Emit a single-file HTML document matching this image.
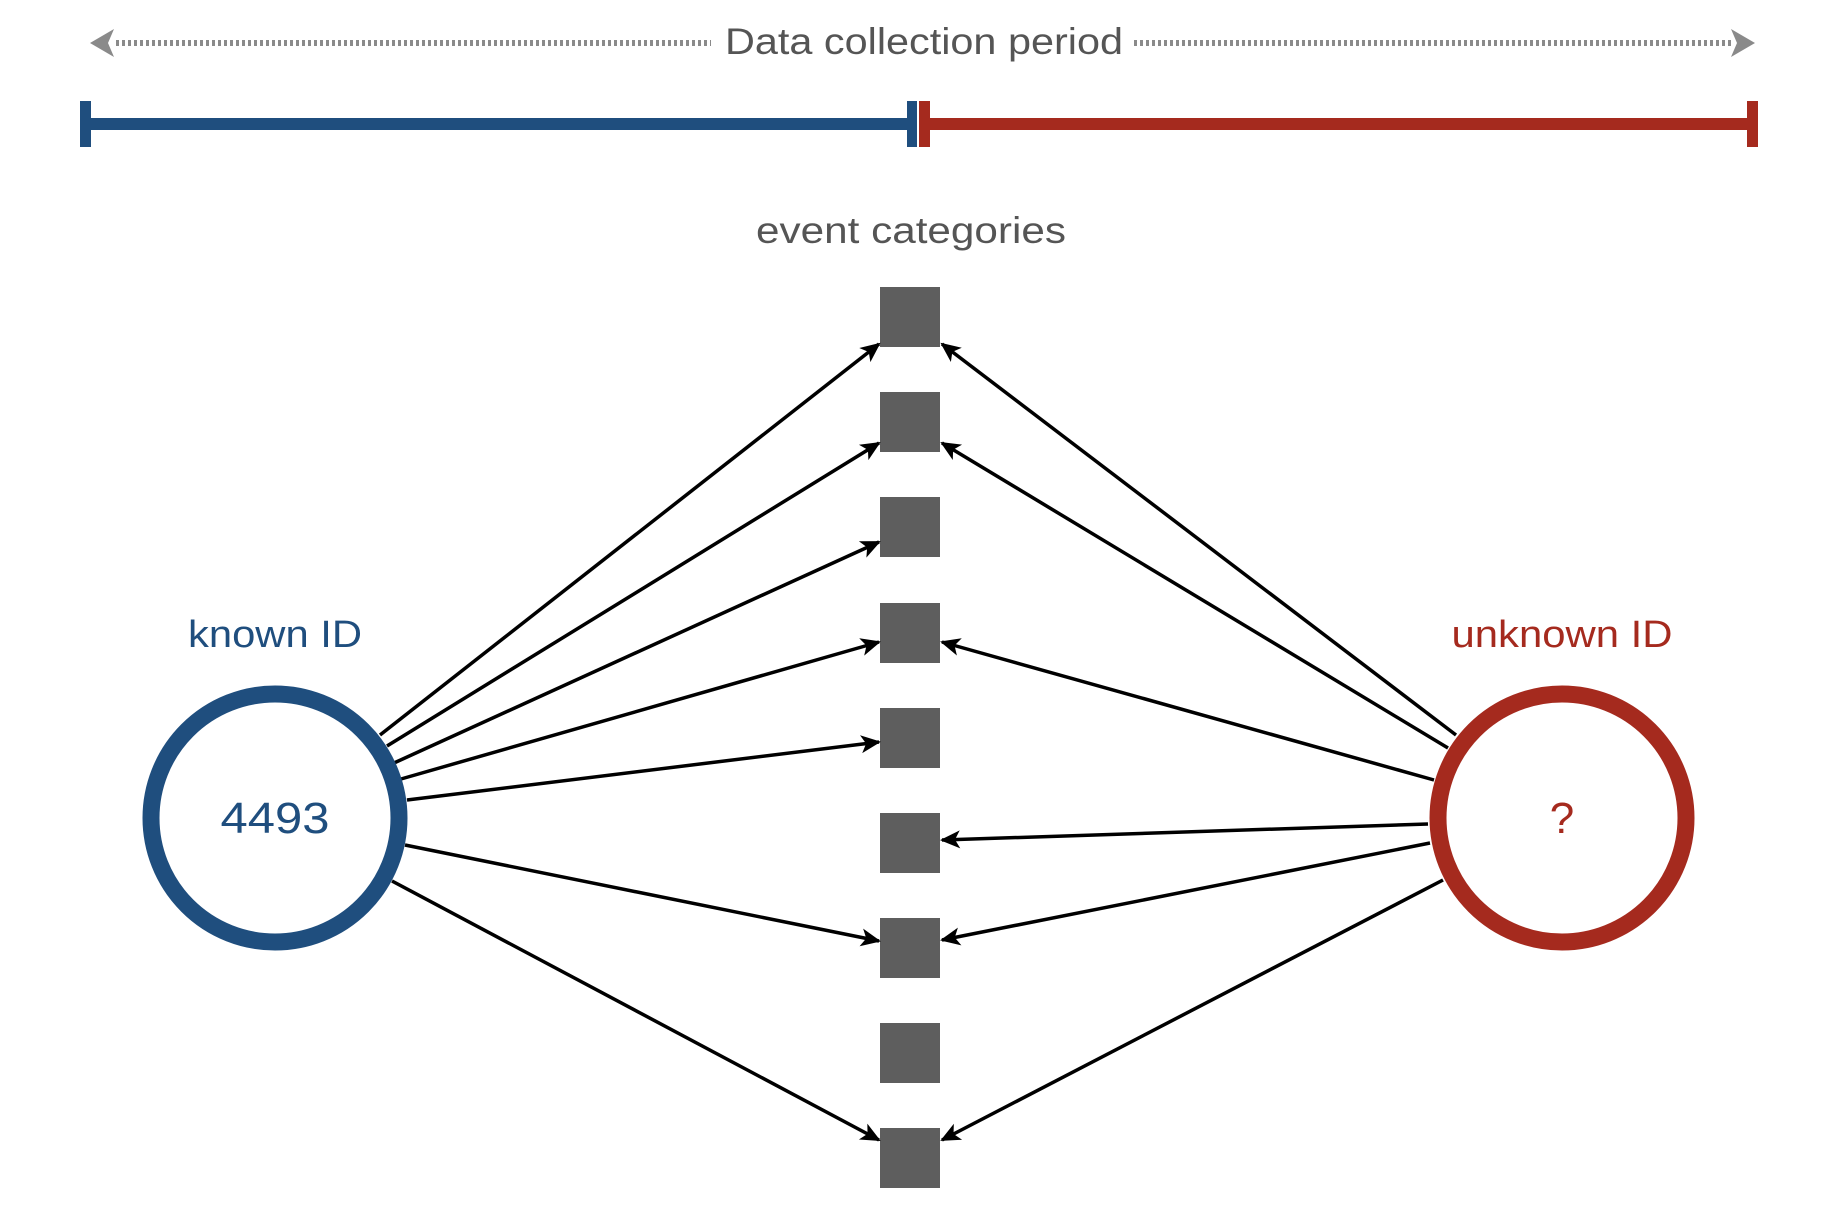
<!DOCTYPE html>
<html><head><meta charset="utf-8"><style>html,body{margin:0;padding:0;background:#fff}svg{display:block}</style></head>
<body>
<svg width="1840" height="1206" viewBox="0 0 1840 1206" xmlns="http://www.w3.org/2000/svg" font-family="Liberation Sans, sans-serif">
<defs>
<marker id="a" markerWidth="8" markerHeight="8" refX="0" refY="0" orient="auto" markerUnits="userSpaceOnUse" style="overflow:visible">
<path d="M2,0 L-18,-9 L-13,0 L-18,9 Z" fill="#000"/>
</marker>
</defs>
<!-- top dashed arrow -->
<line x1="116" y1="43" x2="711" y2="43" stroke="#8a8a8a" stroke-width="6" stroke-dasharray="3,3"/>
<line x1="1134" y1="43" x2="1732" y2="43" stroke="#8a8a8a" stroke-width="6" stroke-dasharray="3,3"/>
<path d="M90,43 L114,29 L108,43 L114,57 Z" fill="#8a8a8a"/>
<path d="M1755,43 L1731,29 L1737,43 L1731,57 Z" fill="#8a8a8a"/>
<text x="924" y="54" font-size="37" fill="#555" text-anchor="middle" textLength="398" lengthAdjust="spacingAndGlyphs">Data collection period</text>
<!-- bar -->
<rect x="80" y="118" width="837" height="12" fill="#1f4e7e"/>
<rect x="80" y="101" width="11" height="46" fill="#1f4e7e"/>
<rect x="907" y="101" width="10" height="46" fill="#1f4e7e"/>
<rect x="919" y="118" width="839" height="12" fill="#a52a1e"/>
<rect x="919" y="101" width="11" height="46" fill="#a52a1e"/>
<rect x="1747" y="101" width="11" height="46" fill="#a52a1e"/>
<text x="911" y="243" font-size="37" fill="#555" text-anchor="middle" textLength="310" lengthAdjust="spacingAndGlyphs">event categories</text>
<!-- squares -->
<g fill="#5e5e5e">
<rect x="880" y="287" width="60" height="60"/>
<rect x="880" y="392" width="60" height="60"/>
<rect x="880" y="497" width="60" height="60"/>
<rect x="880" y="603" width="60" height="60"/>
<rect x="880" y="708" width="60" height="60"/>
<rect x="880" y="813" width="60" height="60"/>
<rect x="880" y="918" width="60" height="60"/>
<rect x="880" y="1023" width="60" height="60"/>
<rect x="880" y="1128" width="60" height="60"/>
</g>
<!-- arrows -->
<g stroke="#000" stroke-width="3.5" marker-end="url(#a)">
<line x1="380" y1="735" x2="879" y2="344"/>
<line x1="387" y1="746" x2="879" y2="443"/>
<line x1="394" y1="763" x2="879" y2="542"/>
<line x1="401" y1="779" x2="879" y2="642"/>
<line x1="407" y1="800" x2="879" y2="742"/>
<line x1="405" y1="845" x2="879" y2="941"/>
<line x1="392" y1="881" x2="879" y2="1140"/>
<line x1="1456" y1="735" x2="942" y2="344"/>
<line x1="1448" y1="748" x2="942" y2="443"/>
<line x1="1434" y1="780" x2="942" y2="642"/>
<line x1="1428" y1="824" x2="942" y2="840"/>
<line x1="1430" y1="843" x2="942" y2="940"/>
<line x1="1443" y1="880" x2="942" y2="1140"/>
</g>
<!-- circles -->
<circle cx="275" cy="818" r="124" fill="#fff" stroke="#1f4e7e" stroke-width="17"/>
<circle cx="1562" cy="818" r="124" fill="#fff" stroke="#a52a1e" stroke-width="17"/>
<text x="275" y="833" font-size="44" fill="#1f4e7e" text-anchor="middle" textLength="109" lengthAdjust="spacingAndGlyphs">4493</text>
<text x="1562" y="833" font-size="44" fill="#a52a1e" text-anchor="middle">?</text>
<text x="275" y="647" font-size="38" fill="#1f4e7e" text-anchor="middle" textLength="174" lengthAdjust="spacingAndGlyphs">known ID</text>
<text x="1562" y="647" font-size="38" fill="#a52a1e" text-anchor="middle" textLength="221" lengthAdjust="spacingAndGlyphs">unknown ID</text>
</svg>
</body></html>
